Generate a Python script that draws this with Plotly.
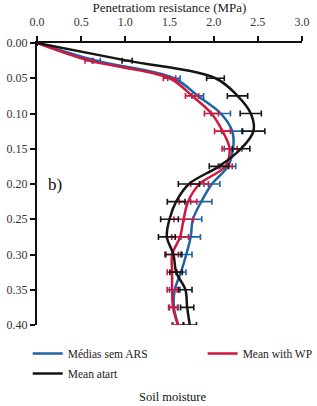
import plotly.graph_objects as go

depth = [0, 0.025, 0.05, 0.075, 0.1, 0.125, 0.15, 0.175, 0.2, 0.225, 0.25,
         0.275, 0.3, 0.325, 0.35, 0.375, 0.4]
blue = [0, 0.67, 1.55, 1.82, 2.08, 2.21, 2.22, 2.16, 1.98, 1.86, 1.765,
        1.74, 1.69, 1.63, 1.56, 1.55, 1.60]
blue_err = [0, 0.047, 0.07, 0.066, 0.11, 0.12, 0.10, 0.09, 0.09, 0.12, 0.10,
            0.11, 0.065, 0.057, 0.06, 0.05, 0.06]
red = [0, 0.59, 1.50, 1.755, 1.975, 2.10, 2.18, 2.13, 1.84, 1.71, 1.66,
       1.62, 1.53, 1.53, 1.53, 1.54, 1.595]
red_err = [0, 0.047, 0.07, 0.075, 0.08, 0.09, 0.085, 0.08, 0.10, 0.10, 0.11,
           0.095, 0.07, 0.057, 0.057, 0.05, 0.066]
black = [0, 1.02, 2.02, 2.27, 2.42, 2.45, 2.31, 2.06, 1.72, 1.575, 1.50,
         1.47, 1.545, 1.575, 1.68, 1.70, 1.73]
black_err = [0, 0.057, 0.10, 0.115, 0.12, 0.13, 0.10, 0.11, 0.12, 0.10, 0.10,
             0.095, 0.095, 0.07, 0.075, 0.075, 0.075]

names = ["Médias sem ARS", "Mean with WP", "Mean atart"]
colors = ["#1f62a6", "#d3163d", "#151515"]
legends = ["legend", "legend2", "legend"]
FONT = "Liberation Serif"

fig = go.Figure()
for name, xs, errs, col, lg in zip(names, [blue, red, black],
                                   [blue_err, red_err, black_err], colors, legends):
    fig.add_trace(go.Scatter(
        x=xs, y=depth, mode="lines", name=name, legend=lg, legendgroup=name,
        line=dict(color=col, width=2.5, shape="spline", smoothing=1.0),
        error_x=dict(type="data", array=errs, visible=True, color=col,
                     thickness=1.6, width=3),
    ))

fig.add_annotation(x=0.1, y=0.2, xref="x", yref="y", text="b)",
                   showarrow=False, xanchor="left", yanchor="middle",
                   font=dict(family=FONT, size=17, color="#111"))
fig.add_annotation(x=(172 - 37) / 265, y=-(397 - 325) / 282, xref="paper", yref="paper",
                   text="Soil moisture", showarrow=False, yanchor="middle",
                   font=dict(family=FONT, size=12.5, color="#111"))

fig.update_layout(
    template="none",
    width=317, height=406,
    margin=dict(l=37, r=15, t=43, b=81, autoexpand=False),
    plot_bgcolor="white", paper_bgcolor="white",
    font=dict(family=FONT, size=11.5, color="#222"),
    showlegend=True,
    legend=dict(x=-0.035, y=-0.05, xanchor="left", yanchor="top",
                orientation="v", tracegroupgap=1, bgcolor="rgba(0,0,0,0)",
                font=dict(family=FONT, size=11.5, color="#222")),
    legend2=dict(x=0.625, y=-0.05, xanchor="left", yanchor="top",
                 orientation="v", bgcolor="rgba(0,0,0,0)",
                 font=dict(family=FONT, size=11.5, color="#222")),
    xaxis=dict(range=[0, 3], side="top", dtick=0.5, tickformat=".1f",
               showline=True, linecolor="#111", linewidth=2,
               ticks="outside", ticklen=5, tickwidth=2, tickcolor="#111",
               showgrid=False, zeroline=False, ticklabelstandoff=5,
               title=dict(text="Penetratiom resistance (MPa)", standoff=5,
                          font=dict(family=FONT, size=13, color="#222")),
               tickfont=dict(family=FONT, size=12, color="#333")),
    yaxis=dict(range=[0.4, 0], dtick=0.05, tickformat=".2f",
               showline=True, linecolor="#111", linewidth=2,
               ticks="outside", ticklen=5, tickwidth=2, tickcolor="#111",
               showgrid=False, zeroline=False,
               tickfont=dict(family=FONT, size=12, color="#333")),
)

fig.write_html("out.html")
